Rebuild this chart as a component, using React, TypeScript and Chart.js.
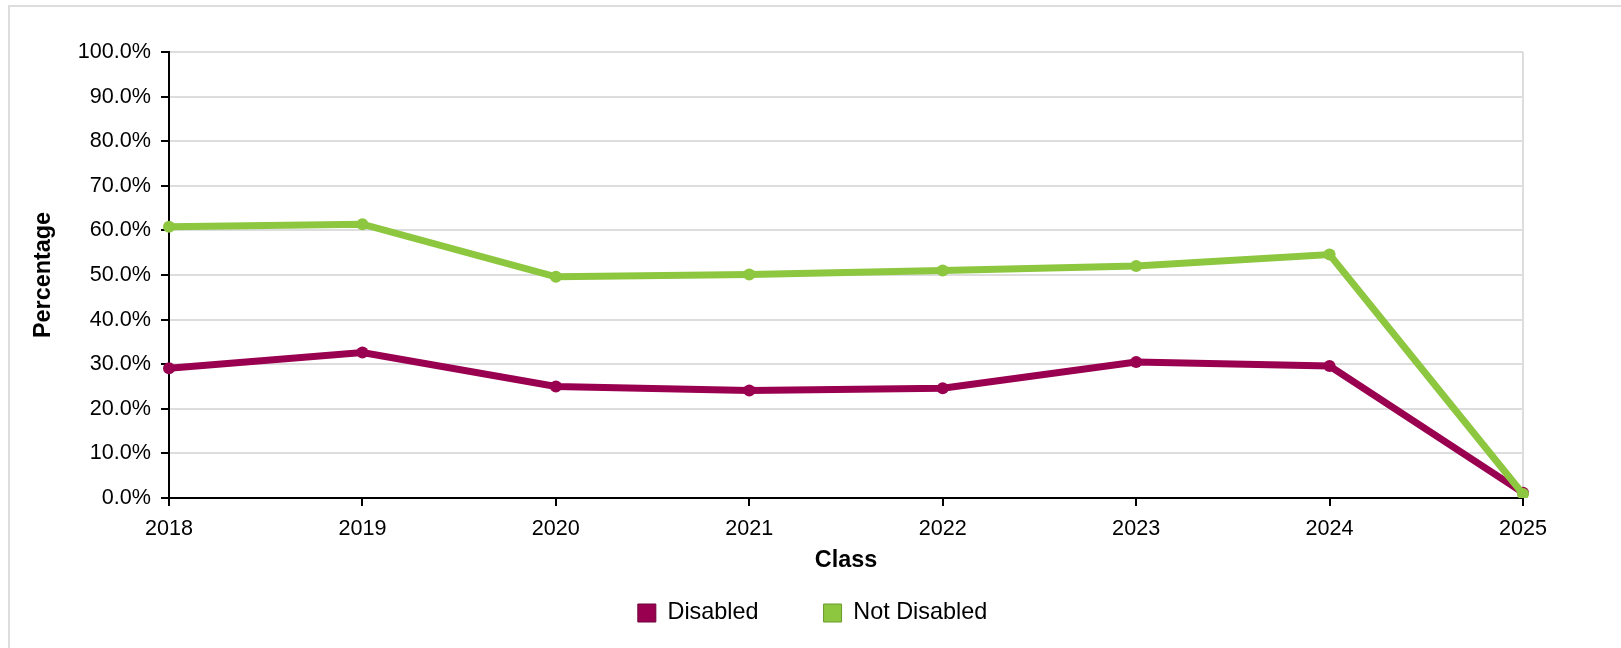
import React, { useEffect, useRef } from "react";
import { Chart, registerables } from "chart.js";

Chart.register(...registerables);

const classes = ["2018", "2019", "2020", "2021", "2022", "2023", "2024", "2025"];
const disabled = [29.1, 32.6, 25.0, 24.1, 24.6, 30.5, 29.6, 1.2];
const notDisabled = [60.8, 61.4, 49.6, 50.1, 51.0, 52.0, 54.6, 0.9];
const yTicks = [0, 10, 20, 30, 40, 50, 60, 70, 80, 90, 100];

const MAGENTA = "#990050";
const GREEN = "#8dc63f";
const TICK_SIZE = 21.6;
const TITLE_SIZE = 23.4;
const LEGEND_SHIFT = 41.5;

const legendShift = {
  id: "legendShift",
  afterLayout(chart: any) {
    const lg = chart.legend;
    if (lg) {
      lg.left += LEGEND_SHIFT;
      lg.right += LEGEND_SHIFT;
    }
  },
};

export default function App() {
  const ref = useRef<HTMLCanvasElement | null>(null);

  useEffect(() => {
    if (!ref.current) return;
    Chart.defaults.font.family = '"Liberation Sans", Arial, Helvetica, sans-serif';
    Chart.defaults.font.size = TICK_SIZE;
    Chart.defaults.color = "#000";
    const chart = new Chart(ref.current, {
      type: "line",
      data: {
        labels: classes,
        datasets: [
          {
            label: "Disabled",
            data: disabled,
            borderColor: MAGENTA,
            backgroundColor: MAGENTA,
            borderWidth: 7,
            pointRadius: 6,
            pointBorderWidth: 0,
            pointBackgroundColor: MAGENTA,
            tension: 0,
            order: 1,
          },
          {
            label: "Not Disabled",
            data: notDisabled,
            borderColor: GREEN,
            backgroundColor: GREEN,
            borderWidth: 7,
            pointRadius: 6,
            pointBorderWidth: 0,
            pointBackgroundColor: GREEN,
            tension: 0,
            order: 0,
          },
        ],
      },
      plugins: [legendShift],
      options: {
        animation: false,
        responsive: false,
        maintainAspectRatio: false,
        layout: { padding: { left: 19, right: 98, top: 52, bottom: 13.3 } },
        plugins: {
          tooltip: { enabled: false },
          legend: {
            position: "bottom",
            labels: {
              boxWidth: 18,
              boxHeight: 18,
              padding: 65,
              font: { size: TITLE_SIZE },
              generateLabels: () => [
                { text: "Disabled", fillStyle: MAGENTA, strokeStyle: "#6e0039", lineWidth: 1, datasetIndex: 0, hidden: false },
                { text: "Not Disabled", fillStyle: GREEN, strokeStyle: "#6a9a2c", lineWidth: 1, datasetIndex: 1, hidden: false },
              ],
            },
          },
        },
        scales: {
          x: {
            type: "category",
            offset: false,
            afterFit: (s: any) => {
              s.height = 38.3;
            },
            border: { color: "#000", width: 2 },
            grid: {
              color: (c: any) => (c.index === classes.length - 1 ? "#dddddd" : "rgba(0,0,0,0)"),
              lineWidth: 2,
              tickColor: "#000",
              tickWidth: 2,
              tickLength: 8,
            },
            ticks: { padding: 10, maxRotation: 0, autoSkip: false, color: "#000", font: { size: TICK_SIZE } },
            title: {
              display: true,
              text: "Class",
              font: { size: TITLE_SIZE, weight: "bold" },
              color: "#000",
              padding: { top: 0, bottom: -38.7 },
            },
          },
          y: {
            min: 0,
            max: 100,
            afterFit: (s: any) => {
              s.width = 150;
            },
            afterBuildTicks: (s: any) => {
              s.ticks = yTicks.map((v) => ({ value: v }));
            },
            border: { color: "#000", width: 2 },
            grid: {
              color: "#dddddd",
              lineWidth: 2,
              tickColor: "#000",
              tickWidth: 2,
              tickLength: 8,
            },
            ticks: {
              padding: 10,
              color: "#000",
              font: { size: TICK_SIZE },
              callback: (v: any) => Number(v).toFixed(1) + "%",
            },
            title: {
              display: true,
              text: "Percentage",
              font: { size: TITLE_SIZE, weight: "bold" },
              color: "#000",
              padding: { top: 10.5, bottom: 0 },
            },
          },
        },
      },
    });
    return () => chart.destroy();
  }, []);

  return (
    <div style={{ position: "fixed", left: 0, top: 0, width: 1621, height: 648, background: "#fff", overflow: "hidden" }}>
      <div
        style={{
          position: "absolute",
          left: 8,
          top: 5,
          width: 1700,
          height: 700,
          borderLeft: "2px solid #dddddd",
          borderTop: "2px solid #dddddd",
        }}
      />
      <canvas ref={ref} width={1621} height={648} style={{ position: "absolute", left: 0, top: 0, width: 1621, height: 648 }} />
    </div>
  );
}
